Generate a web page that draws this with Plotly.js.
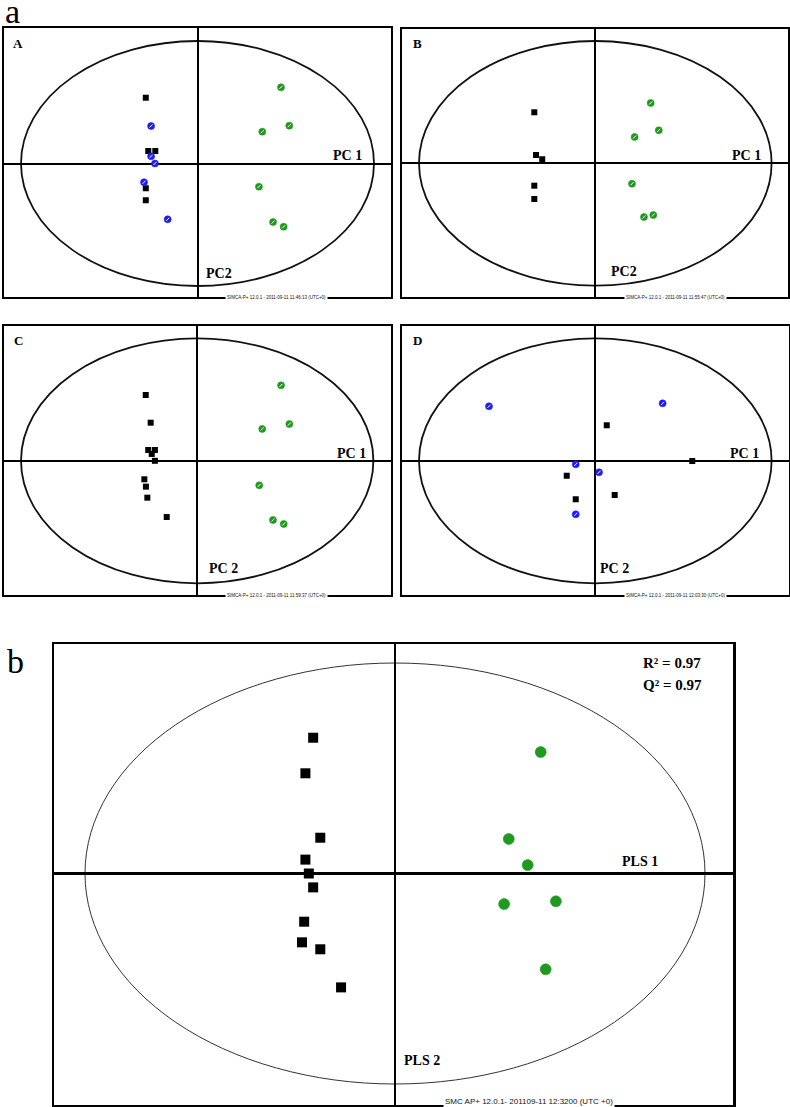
<!DOCTYPE html>
<html>
<head>
<meta charset="utf-8">
<script src="https://cdn.plot.ly/plotly-3.0.1.min.js"></script>
<style>html,body{margin:0;padding:0;background:#fff;}#chart{width:790px;height:1107px;}</style>
</head>
<body>
<div id="chart"></div>
<script>
// ---------- DATA (score values; ellipse = Hotelling T2 limit at radius 10) ----------
// Panel A
const A_blackX = [-2.93, -2.79, -2.39, -2.93, -2.93];
const A_blackY = [5.37, 1.02, 1.02, -2.02, -3.00];
const A_blueX  = [-2.63, -2.63, -2.41, -3.03, -1.69];
const A_blueY  = [3.06, 0.59, 0.00, -1.53, -4.56];
const A_greenX = [4.73, 5.20, 3.67, 3.48, 4.28, 4.88];
const A_greenY = [6.22, 3.09, 2.60, -1.89, -4.78, -5.16];
// Panel B
const B_blackX = [-3.46, -3.36, -3.01, -3.46, -3.46];
const B_blackY = [4.17, 0.68, 0.33, -1.83, -2.92];
const B_greenX = [3.14, 3.60, 2.23, 2.08, 2.76, 3.29];
const B_greenY = [4.93, 2.70, 2.15, -1.67, -4.39, -4.23];
// Panel C
const C_blackX = [-2.92, -2.64, -2.78, -2.40, -2.58, -2.40, -3.00, -2.91, -2.83, -1.73];
const C_blackY = [5.37, 3.11, 0.88, 0.88, 0.56, 0.00, -1.51, -2.11, -3.01, -4.59];
const C_greenX = [4.76, 5.23, 3.69, 3.52, 4.30, 4.91];
const C_greenY = [6.16, 3.00, 2.60, -2.00, -4.83, -5.16];
// Panel D
const D_blueX  = [-6.03, 3.82, -1.11, 0.21, -1.11];
const D_blueY  = [4.45, 4.69, -0.29, -0.94, -4.37];
const D_blackX = [0.65, 5.50, -1.62, 1.10, -1.11];
const D_blackY = [2.90, -0.02, -1.22, -2.79, -3.14];
// Panel b (PLS-DA)
const P_blackX = [-2.64, -2.89, -2.41, -2.89, -2.78, -2.64, -2.93, -3.00, -2.41, -1.74];
const P_blackY = [6.45, 4.76, 1.70, 0.66, 0.00, -0.66, -2.29, -3.27, -3.60, -5.41];
const P_greenX = [4.70, 3.67, 4.28, 3.52, 5.19, 4.86];
const P_greenY = [5.77, 1.64, 0.40, -1.45, -1.32, -4.55];

// text
const panelLetters = ['A', 'B', 'C', 'D'];
const pc1Labels = ['PC 1', 'PC 1', 'PC 1', 'PC 1'];
const pc2Labels = ['PC2', 'PC2', 'PC 2', 'PC 2'];
const footers = [
  'SIMCA-P+ 12.0.1 - 2011-09-11 11:46:13 (UTC+0)',
  'SIMCA-P+ 12.0.1 - 2011-09-11 11:55:47 (UTC+0)',
  'SIMCA-P+ 12.0.1 - 2011-09-11 11:59:37 (UTC+0)',
  'SIMCA-P+ 12.0.1 - 2011-09-11 12:03:30 (UTC+0)'
];
const plsFooter = 'SMC AP+ 12.0.1- 201109-11 12:3200 (UTC +0)';
const statLabels = ['R² = 0.97', 'Q² = 0.97'];
const plsAxisLabels = ['PLS 1', 'PLS 2'];
const T2 = 10;

// ---------- LAYOUT GEOMETRY (pixels) ----------
const W = 790, H = 1107;
const geo = [
  {box: [4, 28, 391, 297],   ell: [197.5, 163.5, 176.5, 122.5]},
  {box: [402, 29, 788, 297], ell: [595.3, 163.3, 176.3, 122.3]},
  {box: [4, 326, 391, 595],  ell: [197.2, 460.8, 176.2, 122.5]},
  {box: [402, 326, 789, 595],ell: [595.3, 460.8, 176.3, 122.5]},
  {box: [54, 644, 733, 1105],ell: [395, 873.5, 310, 210.5]}
];
const px = x => x / W;
const py = y => 1 - y / H;

const GREEN = '#1e9a1e', BLUE = '#1f1ff2', BLACK = '#000000';
const serif = 'Liberation Serif, Times New Roman, serif';

const layout = {
  width: W, height: H,
  margin: {l: 0, r: 0, t: 0, b: 0},
  paper_bgcolor: '#ffffff', plot_bgcolor: '#ffffff',
  showlegend: false,
  shapes: [], annotations: []
};

geo.forEach((g, i) => {
  const [l, t, r, b] = g.box;
  const [cx, cy, ax, by] = g.ell;
  const n = i === 0 ? '' : String(i + 1);
  const lw = i === 4 ? 2.5 : 2;
  const zw = i === 4 ? 2.5 : 2;
  layout['xaxis' + n] = {
    domain: [px(l), px(r)],
    range: [(l - cx) / ax * T2, (r - cx) / ax * T2],
    anchor: 'y' + n,
    showgrid: false, showticklabels: false, ticks: '',
    zeroline: true, zerolinecolor: BLACK, zerolinewidth: zw,
    showline: true, mirror: true, linecolor: BLACK, linewidth: lw,
    fixedrange: true
  };
  layout['yaxis' + n] = {
    domain: [py(b), py(t)],
    range: [(cy - b) / by * T2, (cy - t) / by * T2],
    anchor: 'x' + n,
    showgrid: false, showticklabels: false, ticks: '',
    zeroline: true, zerolinecolor: BLACK, zerolinewidth: zw,
    showline: true, mirror: true, linecolor: BLACK, linewidth: lw,
    fixedrange: true
  };
  layout.shapes.push({
    type: 'circle', xref: 'x' + n, yref: 'y' + n,
    x0: -T2, x1: T2, y0: -T2, y1: T2,
    line: {color: i === 4 ? '#333' : '#111', width: i === 4 ? 1 : 1.8},
    layer: 'below'
  });
});

// annotations for panels A-D
const letterPos = [[18, 43], [417, 43], [18, 340], [417, 340]];
const pc1Pos = [[347, 155], [746, 155], [351, 453], [744, 453]];
const pc2Pos = [[219, 273], [624, 272], [223, 568], [614, 568]];
const footPos = [[276, 297], [675, 297], [276, 595], [675, 595]];
function ann(text, x, y, size, opts) {
  return Object.assign({
    text: text, xref: 'paper', yref: 'paper', x: px(x), y: py(y),
    xanchor: 'center', yanchor: 'middle', showarrow: false,
    font: {family: serif, size: size, color: BLACK}
  }, opts || {});
}
for (let i = 0; i < 4; i++) {
  layout.annotations.push(ann('<b>' + panelLetters[i] + '</b>', letterPos[i][0], letterPos[i][1], 13));
  layout.annotations.push(ann('<b>' + pc1Labels[i] + '</b>', pc1Pos[i][0], pc1Pos[i][1], 14));
  layout.annotations.push(ann('<b>' + pc2Labels[i] + '</b>', pc2Pos[i][0], pc2Pos[i][1], 14));
  layout.annotations.push(ann(footers[i], footPos[i][0], footPos[i][1], 4.5,
    {font: {family: 'Liberation Sans, Arial, sans-serif', size: 4.5, color: '#111'}, bgcolor: '#ffffff', borderpad: 1}));
}
// panel b annotations
layout.annotations.push(ann('<b>' + statLabels[0] + '</b>', 672, 663, 15));
layout.annotations.push(ann('<b>' + statLabels[1] + '</b>', 672, 685, 15));
layout.annotations.push(ann('<b>' + plsAxisLabels[0] + '</b>', 640, 861, 14));
layout.annotations.push(ann('<b>' + plsAxisLabels[1] + '</b>', 422, 1060, 14));
layout.annotations.push(ann(plsFooter, 529, 1101, 8,
  {font: {family: 'Liberation Sans, Arial, sans-serif', size: 8, color: '#111'}, bgcolor: '#ffffff', borderpad: 1}));
// figure letters
layout.annotations.push(ann('a', 12, 12, 34, {font: {family: serif, size: 34, color: BLACK}}));
layout.annotations.push(ann('b', 15, 661, 34, {font: {family: serif, size: 34, color: BLACK}}));

// ---------- TRACES ----------
const traces = [];
function squares(xs, ys, n, size) {
  traces.push({x: xs, y: ys, xaxis: 'x' + n, yaxis: 'y' + n, type: 'scatter', mode: 'markers',
    marker: {symbol: 'square', size: size, color: BLACK, line: {width: 0}}, hoverinfo: 'x+y'});
}
function dots(xs, ys, n, color, size, tick) {
  traces.push({x: xs, y: ys, xaxis: 'x' + n, yaxis: 'y' + n, type: 'scatter', mode: 'markers',
    marker: {symbol: 'circle', size: size, color: color, line: {width: 0.6, color: color}}, hoverinfo: 'x+y'});
  if (tick) {
    traces.push({x: xs, y: ys, xaxis: 'x' + n, yaxis: 'y' + n, type: 'scatter', mode: 'markers',
      marker: {symbol: 'line-ne', size: 3, color: '#ffffff', line: {width: 1, color: '#ffffff'}}, hoverinfo: 'skip'});
  }
}
squares(A_blackX, A_blackY, '', 6);
dots(A_blueX, A_blueY, '', BLUE, 7, true);
dots(A_greenX, A_greenY, '', GREEN, 7, true);

squares(B_blackX, B_blackY, '2', 6);
dots(B_greenX, B_greenY, '2', GREEN, 7, true);

squares(C_blackX, C_blackY, '3', 6);
dots(C_greenX, C_greenY, '3', GREEN, 7, true);

squares(D_blackX, D_blackY, '4', 6);
dots(D_blueX, D_blueY, '4', BLUE, 7, true);

squares(P_blackX, P_blackY, '5', 10);
dots(P_greenX, P_greenY, '5', GREEN, 11, false);

Plotly.newPlot('chart', traces, layout, {staticPlot: true, displayModeBar: false});
</script>
</body>
</html>
